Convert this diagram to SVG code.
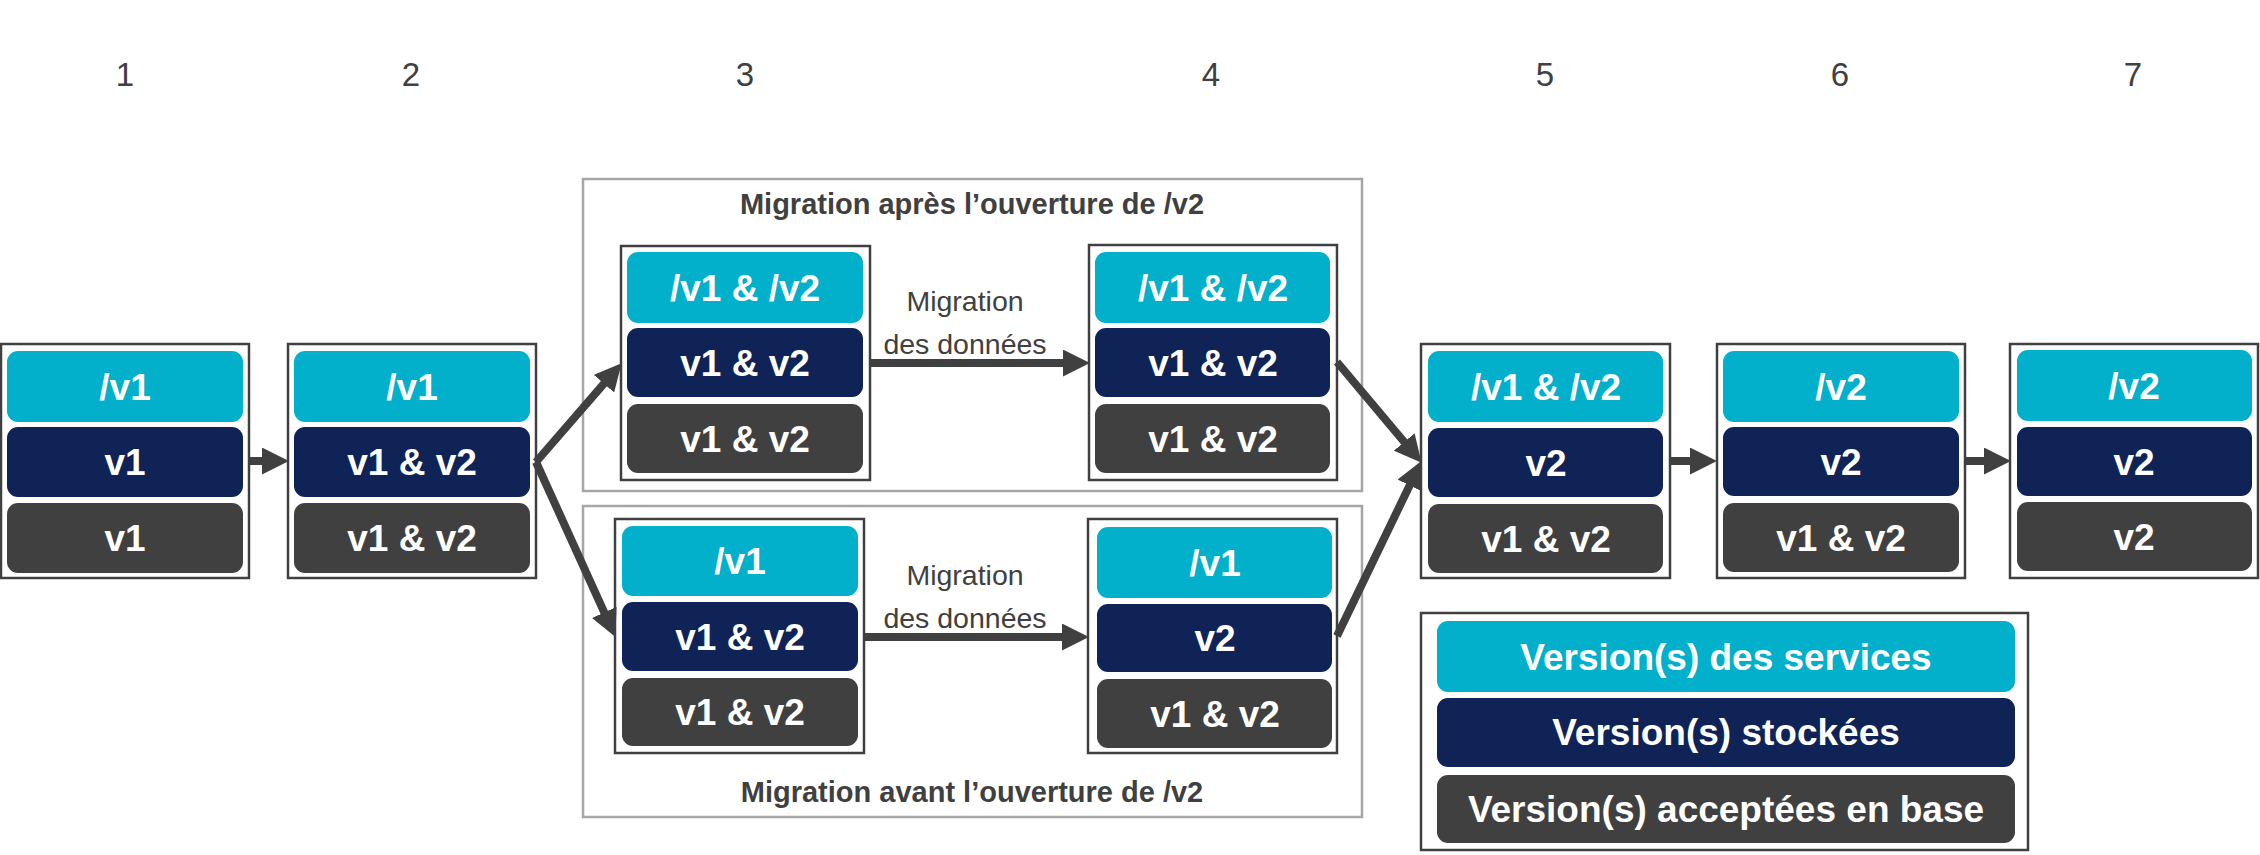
<svg xmlns="http://www.w3.org/2000/svg" width="2260" height="855" viewBox="0 0 2260 855">
<style>
.frame{fill:#fff;stroke:#404040;stroke-width:2.5}
.grp{fill:none;stroke:#a6a6a6;stroke-width:2.5}
.c{fill:#02b0cc}
.n{fill:#0f2356}
.g{fill:#404040}
.t{font-family:"Liberation Sans",Arial,sans-serif;font-weight:bold;font-size:37px;fill:#fff;text-anchor:middle}
.num{font-family:"Liberation Sans",Arial,sans-serif;font-size:33px;fill:#404040;text-anchor:middle}
.title{font-family:"Liberation Sans",Arial,sans-serif;font-weight:bold;font-size:29px;fill:#404040;text-anchor:middle}
.lbl{font-family:"Liberation Sans",Arial,sans-serif;font-size:28.5px;fill:#404040;text-anchor:middle}
.ar{stroke:#404040;stroke-width:8;fill:none;marker-end:url(#head)}
</style>
<defs>
<marker id="head" markerUnits="userSpaceOnUse" markerWidth="27" markerHeight="27" viewBox="-1 -13 26 26" refX="0" refY="0" orient="auto">
<path d="M-1,-13 L25,0 L-1,13 Z" fill="#404040"/>
</marker>
</defs>

<g id="numbers">
<text class="num" x="125" y="86">1</text>
<text class="num" x="411" y="86">2</text>
<text class="num" x="745" y="86">3</text>
<text class="num" x="1211" y="86">4</text>
<text class="num" x="1545" y="86">5</text>
<text class="num" x="1840" y="86">6</text>
<text class="num" x="2133" y="86">7</text>
</g>

<g id="group-apres">
<rect class="grp" x="583" y="179" width="779" height="312"/>
<text class="title" x="972" y="214">Migration après l’ouverture de /v2</text>
</g>
<g id="group-avant">
<rect class="grp" x="583" y="506" width="779" height="311"/>
<text class="title" x="972" y="802">Migration avant l’ouverture de /v2</text>
</g>

<g id="node1">
<rect class="frame" x="1" y="344" width="248" height="234"/>
<rect class="c" x="7" y="351" width="236" height="71" rx="11"/>
<rect class="n" x="7" y="427" width="236" height="70" rx="11"/>
<rect class="g" x="7" y="503" width="236" height="70" rx="11"/>
<text class="t" x="125" y="400">/v1</text>
<text class="t" x="125" y="475">v1</text>
<text class="t" x="125" y="551">v1</text>
</g>

<g id="node2">
<rect class="frame" x="288" y="344" width="248" height="234"/>
<rect class="c" x="294" y="351" width="236" height="71" rx="11"/>
<rect class="n" x="294" y="427" width="236" height="70" rx="11"/>
<rect class="g" x="294" y="503" width="236" height="70" rx="11"/>
<text class="t" x="412" y="400">/v1</text>
<text class="t" x="412" y="475">v1 &amp; v2</text>
<text class="t" x="412" y="551">v1 &amp; v2</text>
</g>

<g id="node3a">
<rect class="frame" x="621" y="246" width="249" height="234"/>
<rect class="c" x="627" y="252" width="236" height="71" rx="11"/>
<rect class="n" x="627" y="328" width="236" height="69" rx="11"/>
<rect class="g" x="627" y="404" width="236" height="69" rx="11"/>
<text class="t" x="745" y="301">/v1 &amp; /v2</text>
<text class="t" x="745" y="376">v1 &amp; v2</text>
<text class="t" x="745" y="452">v1 &amp; v2</text>
</g>

<g id="node4a">
<rect class="frame" x="1089" y="245" width="248" height="235"/>
<rect class="c" x="1095" y="252" width="235" height="71" rx="11"/>
<rect class="n" x="1095" y="328" width="235" height="69" rx="11"/>
<rect class="g" x="1095" y="404" width="235" height="69" rx="11"/>
<text class="t" x="1213" y="301">/v1 &amp; /v2</text>
<text class="t" x="1213" y="376">v1 &amp; v2</text>
<text class="t" x="1213" y="452">v1 &amp; v2</text>
</g>

<g id="node3b">
<rect class="frame" x="615" y="519" width="249" height="234"/>
<rect class="c" x="622" y="526" width="236" height="70" rx="11"/>
<rect class="n" x="622" y="602" width="236" height="69" rx="11"/>
<rect class="g" x="622" y="678" width="236" height="68" rx="11"/>
<text class="t" x="740" y="574">/v1</text>
<text class="t" x="740" y="650">v1 &amp; v2</text>
<text class="t" x="740" y="725">v1 &amp; v2</text>
</g>

<g id="node4b">
<rect class="frame" x="1088" y="519" width="249" height="234"/>
<rect class="c" x="1097" y="527" width="235" height="71" rx="11"/>
<rect class="n" x="1097" y="604" width="235" height="68" rx="11"/>
<rect class="g" x="1097" y="679" width="235" height="69" rx="11"/>
<text class="t" x="1215" y="576">/v1</text>
<text class="t" x="1215" y="651">v2</text>
<text class="t" x="1215" y="727">v1 &amp; v2</text>
</g>

<g id="node5">
<rect class="frame" x="1421" y="344" width="249" height="234"/>
<rect class="c" x="1428" y="351" width="235" height="71" rx="11"/>
<rect class="n" x="1428" y="428" width="235" height="69" rx="11"/>
<rect class="g" x="1428" y="504" width="235" height="69" rx="11"/>
<text class="t" x="1546" y="400">/v1 &amp; /v2</text>
<text class="t" x="1546" y="476">v2</text>
<text class="t" x="1546" y="552">v1 &amp; v2</text>
</g>

<g id="node6">
<rect class="frame" x="1717" y="344" width="248" height="234"/>
<rect class="c" x="1723" y="351" width="236" height="71" rx="11"/>
<rect class="n" x="1723" y="427" width="236" height="69" rx="11"/>
<rect class="g" x="1723" y="503" width="236" height="69" rx="11"/>
<text class="t" x="1841" y="400">/v2</text>
<text class="t" x="1841" y="475">v2</text>
<text class="t" x="1841" y="551">v1 &amp; v2</text>
</g>

<g id="node7">
<rect class="frame" x="2010" y="344" width="248" height="234"/>
<rect class="c" x="2017" y="350" width="235" height="71" rx="11"/>
<rect class="n" x="2017" y="427" width="235" height="69" rx="11"/>
<rect class="g" x="2017" y="502" width="235" height="69" rx="11"/>
<text class="t" x="2134" y="399">/v2</text>
<text class="t" x="2134" y="475">v2</text>
<text class="t" x="2134" y="550">v2</text>
</g>

<g id="legend">
<rect class="frame" x="1421" y="613" width="607" height="237"/>
<rect class="c" x="1437" y="621" width="578" height="71" rx="11"/>
<rect class="n" x="1437" y="698" width="578" height="69" rx="11"/>
<rect class="g" x="1437" y="775" width="578" height="68" rx="11"/>
<text class="t" x="1726" y="670">Version(s) des services</text>
<text class="t" x="1726" y="745">Version(s) stockées</text>
<text class="t" x="1726" y="822">Version(s) acceptées en base</text>
</g>

<g id="connectors">
<line class="ar" x1="249" y1="461" x2="263" y2="461"/>
<line class="ar" x1="536" y1="462" x2="604.6" y2="382.9"/>
<line class="ar" x1="536" y1="462" x2="604.7" y2="613.3"/>
<line class="ar" x1="870" y1="363" x2="1064" y2="363"/>
<line class="ar" x1="864" y1="637" x2="1063" y2="637"/>
<line class="ar" x1="1337" y1="362" x2="1404.9" y2="442.8"/>
<line class="ar" x1="1337" y1="636" x2="1410.1" y2="484.5"/>
<line class="ar" x1="1670" y1="461" x2="1691" y2="461"/>
<line class="ar" x1="1965" y1="461" x2="1985" y2="461"/>
<text class="lbl" x="965" y="311">Migration</text>
<text class="lbl" x="965" y="354">des données</text>
<text class="lbl" x="965" y="585">Migration</text>
<text class="lbl" x="965" y="628">des données</text>
</g>
</svg>
